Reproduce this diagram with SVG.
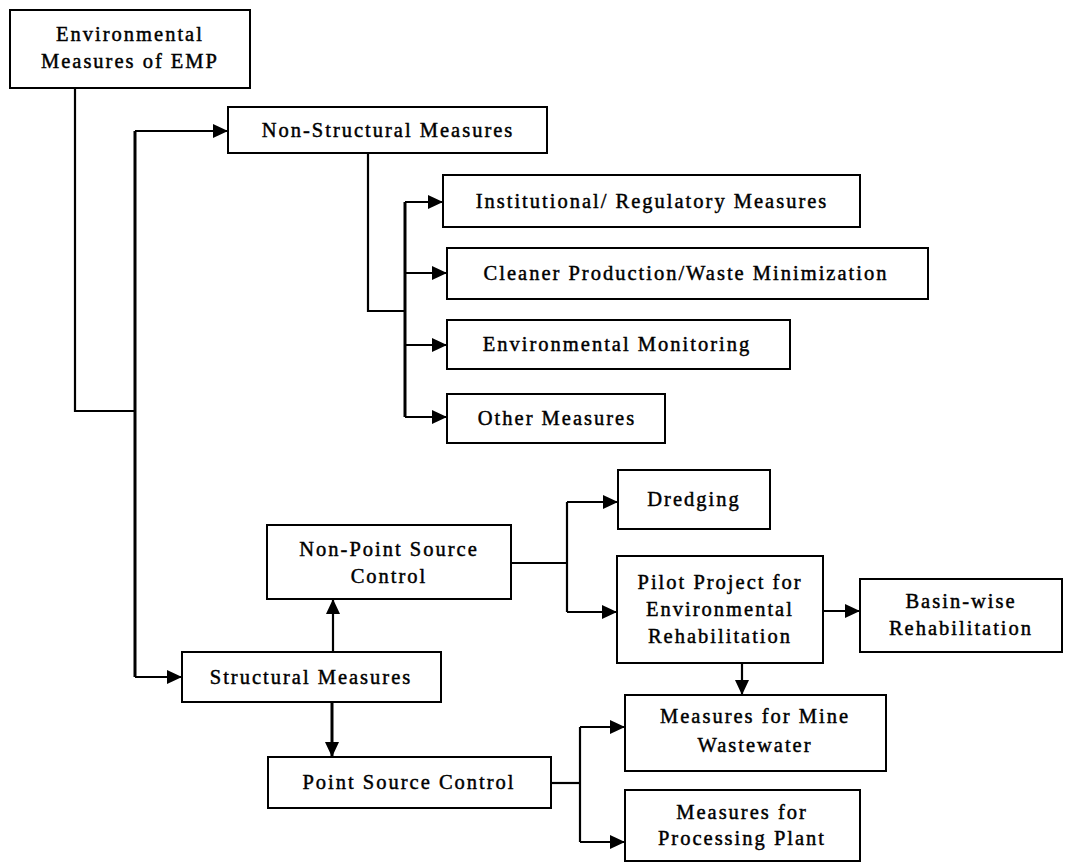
<svg xmlns="http://www.w3.org/2000/svg" width="1066" height="864" viewBox="0 0 1066 864">
<defs>
<marker id="arr" markerUnits="userSpaceOnUse" markerWidth="15" markerHeight="14" refX="15" refY="7" orient="auto">
<path d="M0,0 L15,7 L0,14 z" fill="#000"/>
</marker>
<style>
.box{fill:#fff;stroke:#000;stroke-width:2}
.t{font-family:"Liberation Serif","Times New Roman",serif;font-size:20.5px;letter-spacing:2px;fill:#000;stroke:#000;stroke-width:0.45;text-anchor:middle}
.c{fill:none;stroke:#000;stroke-width:2.2}
.a{fill:none;stroke:#000;stroke-width:2.2;marker-end:url(#arr)}
</style>
</defs>
<rect width="1066" height="864" fill="#fff"/>
<g id="connectors">
<path class="c" d="M75 88 V411 H135"/>
<path class="c" d="M135 131 V677" style="stroke-width:3"/>
<path class="a" d="M135 131 H228"/>
<path class="a" d="M135 677 H182"/>
<path class="c" d="M368 153 V311 H405"/>
<path class="c" d="M405 202 V417" style="stroke-width:3"/>
<path class="a" d="M405 202 H443"/>
<path class="a" d="M405 273 H447"/>
<path class="a" d="M405 345 H447"/>
<path class="a" d="M405 417 H447"/>
<path class="c" d="M511 563 H567"/>
<path class="c" d="M567 502 V612"/>
<path class="a" d="M567 502 H618"/>
<path class="a" d="M567 612 H617"/>
<path class="a" d="M823 611 H860"/>
<path class="a" d="M742 663 V695"/>
<path class="a" d="M333 652 V599"/>
<path class="a" d="M332 702 V757" style="stroke-width:3"/>
<path class="c" d="M551 783 H580"/>
<path class="c" d="M580 727 V842"/>
<path class="a" d="M580 727 H625"/>
<path class="a" d="M580 842 H625"/>
</g>
<g id="emp">
<rect class="box" x="10" y="10" width="240" height="78"/>
<text class="t" x="130" y="41">Environmental</text>
<text class="t" x="130" y="68">Measures of EMP</text>
</g>
<g id="non-structural">
<rect class="box" x="228" y="107" width="319" height="46"/>
<text class="t" x="388" y="137">Non-Structural Measures</text>
</g>
<g id="institutional">
<rect class="box" x="443" y="175" width="417" height="52"/>
<text class="t" x="652" y="208">Institutional/ Regulatory Measures</text>
</g>
<g id="cleaner">
<rect class="box" x="447" y="248" width="481" height="51"/>
<text class="t" x="686" y="280">Cleaner Production/Waste Minimization</text>
</g>
<g id="monitoring">
<rect class="box" x="447" y="320" width="343" height="49"/>
<text class="t" x="617" y="351">Environmental Monitoring</text>
</g>
<g id="other">
<rect class="box" x="447" y="394" width="218" height="49"/>
<text class="t" x="557" y="425">Other Measures</text>
</g>
<g id="dredging">
<rect class="box" x="618" y="470" width="152" height="59"/>
<text class="t" x="694" y="506">Dredging</text>
</g>
<g id="non-point">
<rect class="box" x="267" y="525" width="244" height="74"/>
<text class="t" x="389" y="556">Non-Point Source</text>
<text class="t" x="389" y="583">Control</text>
</g>
<g id="pilot">
<rect class="box" x="617" y="556" width="206" height="107"/>
<text class="t" x="720" y="589">Pilot Project for</text>
<text class="t" x="720" y="616">Environmental</text>
<text class="t" x="720" y="643">Rehabilitation</text>
</g>
<g id="basin">
<rect class="box" x="860" y="579" width="202" height="73"/>
<text class="t" x="961" y="608">Basin-wise</text>
<text class="t" x="961" y="635">Rehabilitation</text>
</g>
<g id="structural">
<rect class="box" x="182" y="652" width="259" height="50"/>
<text class="t" x="311" y="684">Structural Measures</text>
</g>
<g id="point-source">
<rect class="box" x="268" y="757" width="283" height="51"/>
<text class="t" x="409" y="789">Point Source Control</text>
</g>
<g id="mine">
<rect class="box" x="625" y="695" width="261" height="76"/>
<text class="t" x="755" y="723">Measures for Mine</text>
<text class="t" x="755" y="752">Wastewater</text>
</g>
<g id="processing">
<rect class="box" x="625" y="790" width="235" height="71"/>
<text class="t" x="742" y="819">Measures for</text>
<text class="t" x="742" y="845">Processing Plant</text>
</g>
</svg>
